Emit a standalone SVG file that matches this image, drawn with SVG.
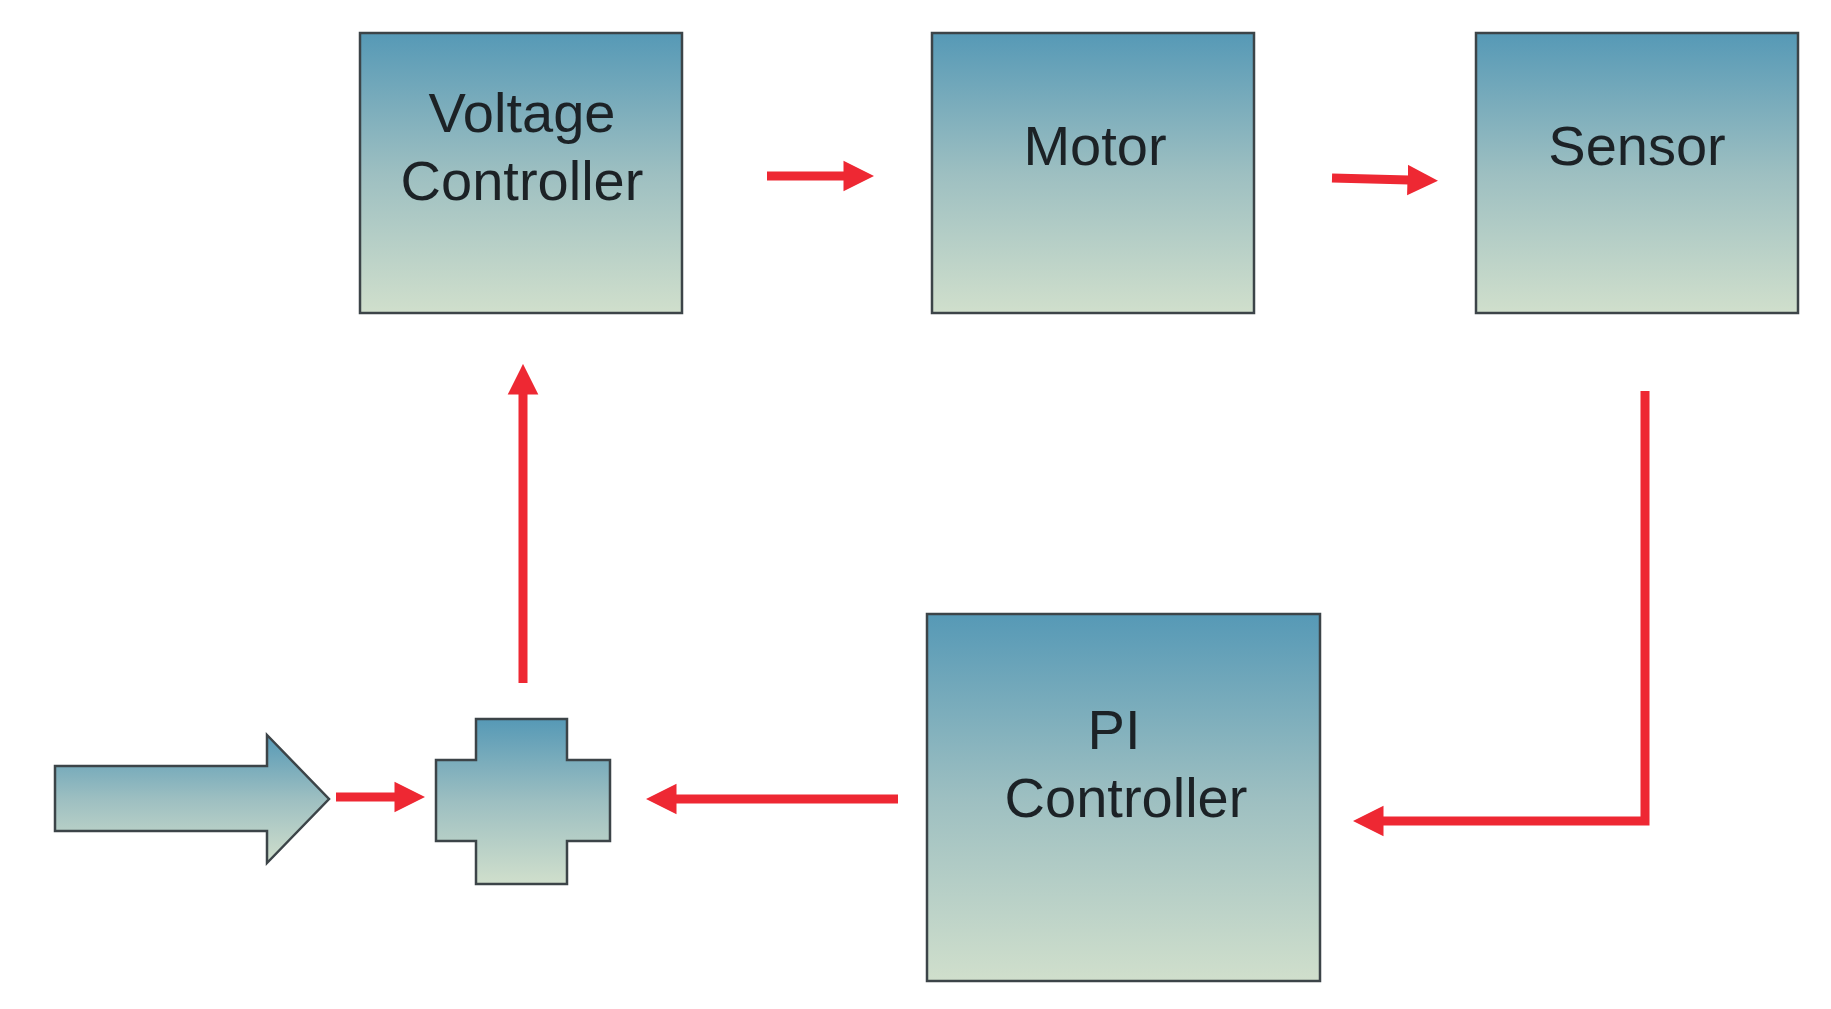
<svg xmlns="http://www.w3.org/2000/svg" width="1831" height="1009" viewBox="0 0 1831 1009">
<style>
.box{fill:url(#g);stroke:#3c4448;stroke-width:2.5}
.lbl{font-family:"Liberation Sans",Arial,sans-serif;font-size:56px;fill:#1c2226;text-anchor:middle}
.con{fill:none;stroke:#ee2833;stroke-width:9;stroke-linejoin:miter;marker-end:url(#ah)}
</style>
<defs>
<linearGradient id="g" x1="0" y1="0" x2="0" y2="1">
<stop offset="0" stop-color="#5699b6"/>
<stop offset="0.5" stop-color="#9dbfc1"/>
<stop offset="1" stop-color="#d0dfcc"/>
</linearGradient>
<marker id="ah" viewBox="0 0 10 10" refX="0.5" refY="5" markerWidth="3.4" markerHeight="3.8" orient="auto" markerUnits="strokeWidth">
<path d="M0,0 L10,5 L0,10 Z" fill="#ee2833"/>
</marker>
</defs>
<rect width="1831" height="1009" fill="#ffffff"/>
<g id="voltage-controller">
<rect class="box" x="360" y="33" width="322" height="280"/>
<text class="lbl" x="522" y="132">Voltage</text>
<text class="lbl" x="522" y="200">Controller</text>
</g>
<g id="motor">
<rect class="box" x="932" y="33" width="322" height="280"/>
<text class="lbl" x="1095" y="165">Motor</text>
</g>
<g id="sensor">
<rect class="box" x="1476" y="33" width="322" height="280"/>
<text class="lbl" x="1637" y="165">Sensor</text>
</g>
<g id="pi-controller">
<rect class="box" x="927" y="614" width="393" height="367"/>
<text class="lbl" x="1114" y="749">PI</text>
<text class="lbl" x="1126" y="817">Controller</text>
</g>
<g id="input">
<polygon class="box" points="55,766 267,766 267,735 329,799 267,863 267,831 55,831"/>
</g>
<g id="summing-junction">
<path class="box" d="M476,719 H567 V760 H610 V841 H567 V884 H476 V841 H436 V760 H476 Z"/>
</g>
<g id="connectors">
<path class="con" d="M767,176 H845"/>
<path class="con" d="M1332,178 L1409,180"/>
<path class="con" d="M523,683 V393"/>
<path class="con" d="M1645,391 V821 H1382"/>
<path class="con" d="M898,799 H675"/>
<path class="con" d="M336,797 H396"/>
</g>
</svg>
